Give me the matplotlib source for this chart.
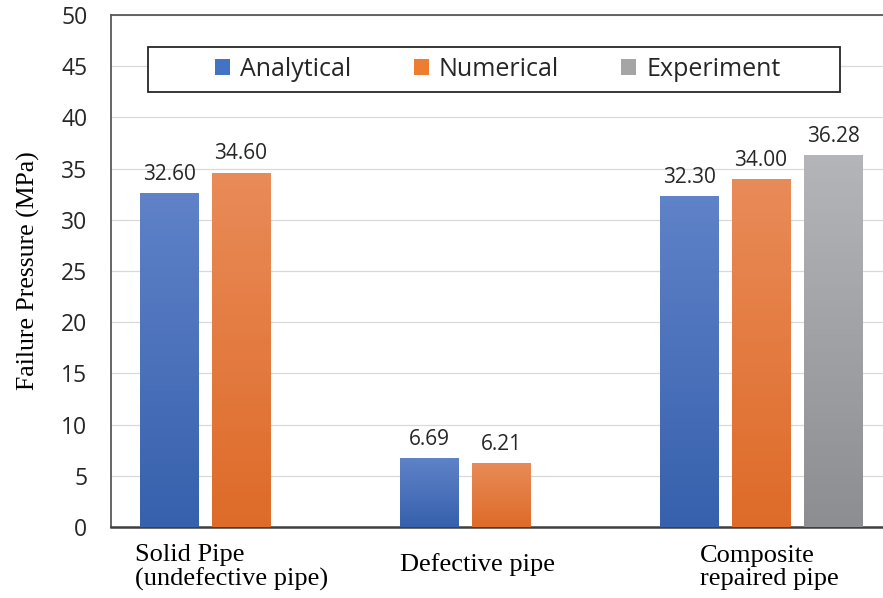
import numpy as np
import matplotlib.pyplot as plt
from matplotlib.colors import LinearSegmentedColormap
from matplotlib.patches import Rectangle

categories = ["Solid Pipe\n(undefective pipe)", "Defective pipe", "Composite\nrepaired pipe"]
series_names = ["Analytical", "Numerical", "Experiment"]
analytical = [32.60, 6.69, 32.30]
numerical = [34.60, 6.21, 34.00]
experiment = [np.nan, np.nan, 36.28]
y_ticks = [0, 5, 10, 15, 20, 25, 30, 35, 40, 45, 50]

# excel style colours: (legend, gradient top, gradient bottom)
colors = [("#4472C4", "#5F82C8", "#3761AD"),
          ("#ED7D31", "#E98B58", "#DE6B29"),
          ("#A5A5A5", "#B4B5B8", "#8D8E92")]

sans = "Open Sans"
serif = "Liberation Serif"

fig = plt.figure(figsize=(8.83, 5.98), dpi=100)
ax = fig.add_axes([111/883, 71/598, 772/883, 512/598])

x = np.arange(len(categories))
width = 58/260
step = 72/260

all_vals = [analytical, numerical, experiment]
for i, vals in enumerate(all_vals):
    bars = ax.bar(x + (i - 1) * step, vals, width, color=colors[i][0],
                  label=series_names[i], zorder=2)
    cmap = LinearSegmentedColormap.from_list("g%d" % i, [colors[i][2], colors[i][1]])
    grad = np.linspace(0, 1, 64).reshape(-1, 1)
    for b in bars:
        h = b.get_height()
        if np.isnan(h):
            continue
        im = ax.imshow(grad, cmap=cmap, origin="lower", aspect="auto", zorder=3,
                       extent=[b.get_x(), b.get_x() + b.get_width(), 0, h])
        im.set_clip_path(b)
    labels = ["" if np.isnan(v) else "%.2f" % v for v in vals]
    ax.bar_label(bars, labels=labels, padding=6, fontsize=15, family=sans,
                 color="#262626", zorder=4)

ax.set_xlim(-0.5, 2.469)
ax.set_ylim(0, 50)
ax.set_yticks(y_ticks)
ax.set_yticklabels([str(t) for t in y_ticks], fontsize=16.5, family=sans, color="#262626")
ax.tick_params(axis="y", length=0, pad=17)
ax.set_xticks(x)
ax.set_xticklabels([])
ax.tick_params(axis="x", length=0)
ax.grid(axis="y", color="#D9D9D9", linewidth=0.9, zorder=0)
ax.set_axisbelow(True)

ax.spines["right"].set_visible(False)
ax.spines["top"].set_color("#595959")
ax.spines["top"].set_linewidth(1.3)
ax.spines["left"].set_color("#595959")
ax.spines["left"].set_linewidth(1.3)
ax.spines["bottom"].set_color("#404040")
ax.spines["bottom"].set_linewidth(1.8)

ax.set_ylabel("Failure Pressure (MPa)", fontsize=18.5, family=serif, labelpad=15)

# category labels placed like the text boxes in the original
label_x = [-0.408, 0.6115, 1.765]
label_y = [-0.079, -0.074, -0.079]
for lx, ly, txt in zip(label_x, label_y, categories):
    ax.text(lx, ly, txt, transform=ax.get_xaxis_transform(), ha="left", va="center",
            multialignment="left", fontsize=19, family=serif, linespacing=1.08)

# legend with its own frame box
ax.add_patch(Rectangle((37/772, 0.85), 692/772, 0.0875, transform=ax.transAxes,
                       fill=True, facecolor="white", edgecolor="#262626",
                       linewidth=1.3, zorder=5, clip_on=False))
leg = ax.legend(loc="center", bbox_to_anchor=(0.501, 0.894), ncol=3, frameon=False,
                prop={"family": sans, "size": 18}, handlelength=0.6, handleheight=0.6,
                handletextpad=0.4, columnspacing=2.5)
leg.set_zorder(6)
for t in leg.get_texts():
    t.set_color("#262626")

plt.savefig("out.png", dpi=100)
